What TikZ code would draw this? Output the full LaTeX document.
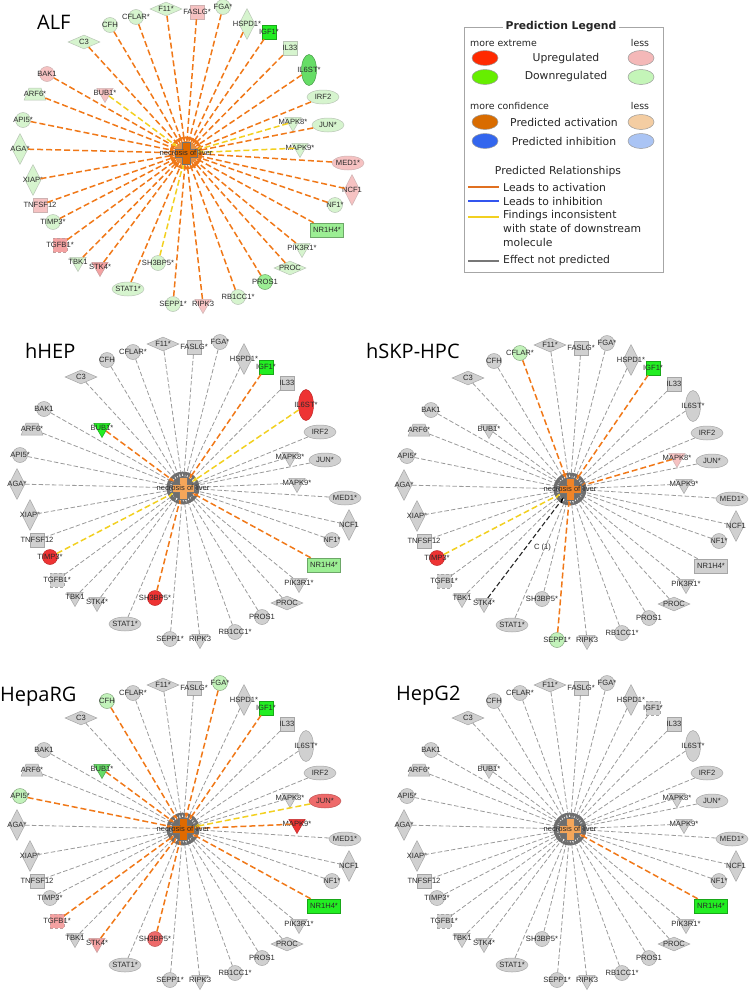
\documentclass[tikz,border=0pt]{standalone}
\usepackage{fontspec}
\setmainfont{Liberation Sans}
\newfontfamily\legendfont{DejaVu Sans}
\newfontfamily\titlefont{Open Sans}
\usetikzlibrary{shapes.geometric,arrows.meta}

% colours
\definecolor{nodegray}{HTML}{D0D0D0}
\definecolor{nodeline}{HTML}{A6A6A6}
\definecolor{labelgray}{HTML}{2A2A2A}
\definecolor{linkgray}{HTML}{9A9A9A}
\definecolor{tipgray}{HTML}{6E6E6E}
\definecolor{actline}{HTML}{F07818}
\definecolor{incline}{HTML}{F2D020}
\definecolor{upstrong}{HTML}{EE3333}
\definecolor{upmid}{HTML}{EE6A6A}
\definecolor{uprosy}{HTML}{F4A2A2}
\definecolor{uplight}{HTML}{F6C2C2}
\definecolor{dnstrong}{HTML}{22EE22}
\definecolor{dnmid}{HTML}{66DD66}
\definecolor{dnsoft}{HTML}{9CEE94}
\definecolor{dnfaint}{HTML}{C2F2BA}
\definecolor{dnlight}{HTML}{D6F4CE}
\definecolor{hubdark}{HTML}{E06A00}
\definecolor{hubmid}{HTML}{F08428}
\definecolor{hublight}{HTML}{F5A65A}
\definecolor{legred}{HTML}{FF2A00}
\definecolor{leggreen}{HTML}{66EE00}
\definecolor{legpink}{HTML}{F4B8B8}
\definecolor{leglgreen}{HTML}{C4F5B8}
\definecolor{legorange}{HTML}{D96C00}
\definecolor{leglorange}{HTML}{F4CDA2}
\definecolor{legblue}{HTML}{3366EE}
\definecolor{leglblue}{HTML}{AAC4F4}
\definecolor{legline}{HTML}{E07020}
\definecolor{legbluel}{HTML}{3355EE}
\definecolor{leggray}{HTML}{777777}

% molecules: id/label/dx/dy/shape
\newcommand\genelist{F11/F11*/-20/-144/hdia, FASLG/FASLG*/11/-141/sq,
  FGA/FGA*/37/-146/circ, HSPD1/HSPD1*/61/-129/vdia, IGF1/IGF1*/83/-121/sq,
  IL33/IL33/104/-105/sq, IL6ST/IL6ST*/123/-83/vell, IRF2/IRF2/137/-56/hell,
  MAPK8/MAPK8*/107/-31/tri, JUN/JUN*/142/-28/hell, MAPK9/MAPK9*/114/-5/tri,
  MED1/MED1*/162/10/hell, NCF1/NCF1/166/37/vdia, NF1/NF1*/149/52/circ,
  NR1H4/NR1H4*/141/77/rect, PIK3R1/PIK3R1*/116/95/tri, PROC/PROC/104/115/hdia,
  PROS1/PROS1/79/129/circ, RB1CC1/RB1CC1*/52/144/circ, RIPK3/RIPK3/17/151/tri,
  SEPP1/SEPP1*/-13/151/circ, SH3BP5/SH3BP5*/-28/110/circ,
  STAT1/STAT1*/-58/136/hell, STK4/STK4*/-86/114/tri, TBK1/TBK1/-108/109/tri,
  TGFB1/TGFB1*/-126/92/sqd, TIMP3/TIMP3*/-133/69/circ,
  TNFSF12/TNFSF12/-146/52/sq, XIAP/XIAP*/-153/27/vdia, AGA/AGA*/-166/-4/vdia,
  API5/API5*/-163/-33/circ, ARF6/ARF6*/-151/-59/trap, BAK1/BAK1/-139/-79/circ,
  BUB1/BUB1*/-81/-60/tri, C3/C3/-102/-111/hdia, CFH/CFH/-76/-128/circ,
  CFLAR/CFLAR*/-50/-136/circ}

\tikzset{
  gene/.style={draw=nodeline, fill=nodegray, inner sep=0.5pt, line width=0.5pt},
  genelabel/.style={font=\fontsize{7.6}{8}\selectfont, text=labelgray, inner sep=0pt},
  circ/.style={circle, minimum size=15pt},
  hell/.style={ellipse, minimum width=32pt, minimum height=14pt},
  vell/.style={ellipse, minimum width=15pt, minimum height=31pt},
  hdia/.style={diamond, minimum width=32pt, minimum height=14pt},
  vdia/.style={diamond, minimum width=16pt, minimum height=31pt},
  sq/.style={rectangle, minimum size=14pt},
  sqd/.style={rectangle, minimum size=14pt, densely dashed},
  rect/.style={rectangle, minimum width=33pt, minimum height=14pt},
  tri/.style={regular polygon, regular polygon sides=3, shape border rotate=180, minimum size=19pt},
  trap/.style={trapezium, trapezium left angle=68, trapezium right angle=68, minimum width=15pt, minimum height=12pt},
  hub/.style={circle, minimum size=20pt, inner sep=0pt},
  hubtext/.style={font=\fontsize{7.6}{8}\selectfont, text=labelgray, inner sep=0pt},
  crossmark/.style={draw=black!55, line width=0.4pt},
  link/.style={draw=linkgray, line width=0.8pt, dash pattern=on 4.5pt off 2.2pt,
    -{Latex[length=6pt,width=5pt,color=tipgray]}},
  act/.style={draw=actline, line width=1.5pt, dash pattern=on 6pt off 3pt,
    -{Latex[length=6pt,width=5pt,color=actline]}},
  inc/.style={draw=incline, line width=1.5pt, dash pattern=on 6pt off 3pt,
    -{Latex[length=6pt,width=5pt,color=incline]}},
  blk/.style={draw=black!85, line width=1.1pt, dash pattern=on 5pt off 2.5pt,
    -{Latex[length=6pt,width=5pt,color=black]}},
  paneltitle/.style={font=\titlefont\fontsize{20}{22}\selectfont, inner sep=0pt, anchor=base west},
  % node colours
  pinkn/.style={fill=uplight, draw=uplight!75!black!70},
  rosyn/.style={fill=uprosy, draw=uprosy!70!black!70},
  redn/.style={fill=upstrong, draw=upstrong!80!black},
  salmonn/.style={fill=upmid, draw=upmid!80!black},
  brightn/.style={fill=dnstrong, draw=dnstrong!70!black},
  greenn/.style={fill=dnmid, draw=dnmid!70!black},
  palen/.style={fill=dnsoft, draw=dnsoft!70!black},
  faintn/.style={fill=dnfaint, draw=dnfaint!70!black},
  % ALF
  alf-node/.style={fill=dnlight, draw=dnlight!65!black!60},
  alf-edge/.style={act},
  alf-blob/.style={fill=hubdark!75},
  alf-cross/.style={fill=hubdark},
  alf-FASLG/.style={pinkn}, alf-BAK1/.style={pinkn}, alf-BUB1/.style={pinkn},
  alf-MED1/.style={pinkn}, alf-NCF1/.style={pinkn}, alf-TNFSF12/.style={pinkn},
  alf-RIPK3/.style={pinkn}, alf-TGFB1/.style={rosyn}, alf-STK4/.style={rosyn},
  alf-IGF1/.style={brightn}, alf-IL6ST/.style={greenn},
  alf-NR1H4/.style={palen}, alf-PROS1/.style={palen},
  alf-BUB1-e/.style={inc}, alf-MAPK8-e/.style={inc}, alf-MAPK9-e/.style={inc},
  alf-SH3BP5-e/.style={inc},
  % hHEP
  hhep-node/.style={}, hhep-edge/.style={},
  hhep-blob/.style={fill=tipgray}, hhep-cross/.style={fill=hublight},
  hhep-BUB1/.style={brightn}, hhep-IGF1/.style={brightn}, hhep-IL6ST/.style={redn},
  hhep-TIMP3/.style={redn}, hhep-SH3BP5/.style={redn}, hhep-NR1H4/.style={palen},
  hhep-BUB1-e/.style={act}, hhep-IGF1-e/.style={act}, hhep-NR1H4-e/.style={act},
  hhep-SH3BP5-e/.style={act}, hhep-IL6ST-e/.style={inc}, hhep-TIMP3-e/.style={inc},
  % hSKP-HPC
  hskp-node/.style={}, hskp-edge/.style={},
  hskp-blob/.style={fill=tipgray}, hskp-cross/.style={fill=hubmid},
  hskp-CFLAR/.style={faintn}, hskp-SEPP1/.style={faintn}, hskp-IGF1/.style={brightn},
  hskp-MAPK8/.style={pinkn}, hskp-TIMP3/.style={redn},
  hskp-CFLAR-e/.style={act}, hskp-IGF1-e/.style={act}, hskp-MAPK8-e/.style={act},
  hskp-SEPP1-e/.style={act}, hskp-TIMP3-e/.style={inc}, hskp-STK4-e/.style={blk},
  % HepaRG
  heparg-node/.style={}, heparg-edge/.style={},
  heparg-blob/.style={fill=tipgray}, heparg-cross/.style={fill=hubdark},
  heparg-CFH/.style={faintn}, heparg-FGA/.style={faintn}, heparg-API5/.style={faintn},
  heparg-BUB1/.style={greenn}, heparg-IGF1/.style={brightn}, heparg-JUN/.style={salmonn},
  heparg-MAPK9/.style={redn}, heparg-TGFB1/.style={rosyn}, heparg-STK4/.style={rosyn},
  heparg-SH3BP5/.style={salmonn}, heparg-NR1H4/.style={brightn},
  heparg-CFH-e/.style={act}, heparg-FGA-e/.style={act}, heparg-IGF1-e/.style={act},
  heparg-BUB1-e/.style={act}, heparg-API5-e/.style={act}, heparg-MAPK9-e/.style={act},
  heparg-TGFB1-e/.style={act}, heparg-STK4-e/.style={act}, heparg-SH3BP5-e/.style={act},
  heparg-NR1H4-e/.style={act}, heparg-JUN-e/.style={inc},
  % HepG2
  hepg2-node/.style={}, hepg2-edge/.style={},
  hepg2-blob/.style={fill=tipgray}, hepg2-cross/.style={fill=hublight},
  hepg2-NR1H4/.style={brightn}, hepg2-IGF1/.style={densely dashed},
  hepg2-NR1H4-e/.style={act},
  % legend
  legdot/.style={ellipse, minimum width=26pt, minimum height=15pt, draw=black!40, line width=0.5pt},
  legtext/.style={font=\legendfont\fontsize{10.8}{14}\selectfont, text=black!85, inner sep=0pt},
  legsmall/.style={font=\legendfont\fontsize{9.4}{11}\selectfont, text=black!85, inner sep=0pt},
  legswatch/.style={line width=2.6pt},
}

\begin{document}
\begin{tikzpicture}[x=1pt, y=-1pt]
\useasboundingbox (0,0) rectangle (750,991);

\foreach \p/\cx/\cy/\ttl/\tx/\ty in {alf/186/153/ALF/37/29, hhep/183/488/hHEP/25/358,
    hskp/570/489/hSKP-HPC/366/358, heparg/183/829/HepaRG/0/701, hepg2/570/829/HepG2/396/700} {
  \node[paneltitle] (\p-title) at (\tx,\ty) {\ttl};
  \begin{scope}[shift={(\cx,\cy)}]
    \node[hub] (\p-hub) at (0,0) {};
    \fill[\p-blob] (0,0) circle (12);
    \foreach \g/\lb/\dx/\dy/\shp in \genelist {
      \node[gene, \shp, \p-node, \p-\g/.try, label={[genelabel]center:\lb}] (\p-\g) at (\dx,\dy) {};
    }
    \foreach \g/\lb/\dx/\dy/\shp in \genelist {
      \draw[link, \p-edge, \p-\g-e/.try] (\p-\g) -- (\p-hub);
    }
    \draw[crossmark, \p-cross] (-4,-11) -- (4,-11) -- (4,-4) -- (11,-4) -- (11,4) -- (4,4)
      -- (4,11) -- (-4,11) -- (-4,4) -- (-11,4) -- (-11,-4) -- (-4,-4) -- cycle;
    \node[hubtext] (\p-name) at (0,0) {necrosis of liver};
  \end{scope}
}
\path (hskp-STK4) -- node[pos=0.5, right=8pt, genelabel] (hskp-cnote) {C (1)} (hskp-hub);

% legend
\draw[draw=black!35, line width=0.6pt] (464,27) rectangle (663,272);
\node[legtext, font=\legendfont\bfseries\fontsize{10.8}{13}\selectfont, fill=white, inner xsep=3pt] (legtitle) at (561,27) {Prediction Legend};
\node[legsmall, anchor=west] (moreext) at (470,43) {more extreme};
\node[legsmall] (lessext) at (640,43) {less};
\node[legdot, fill=legred] (upd) at (485,58) {};
\node[legdot, fill=legpink] (upl) at (641,58) {};
\node[legtext] (uptext) at (566,59) {Upregulated};
\node[legdot, fill=leggreen] (dnd) at (485,77) {};
\node[legdot, fill=leglgreen] (dnl) at (641,77) {};
\node[legtext] (dntext) at (566,77) {Downregulated};
\node[legsmall, anchor=west] (moreconf) at (470,106) {more confidence};
\node[legsmall] (lessconf) at (640,106) {less};
\node[legdot, fill=legorange] (acd) at (485,122) {};
\node[legdot, fill=leglorange] (acl) at (641,122) {};
\node[legtext] (actext) at (564,122) {Predicted activation};
\node[legdot, fill=legblue] (ind) at (485,141) {};
\node[legdot, fill=leglblue] (inl) at (641,141) {};
\node[legtext] (intext) at (564,141) {Predicted inhibition};
\node[legtext] (reltitle) at (558,172) {Predicted Relationships};
\draw[legswatch, legline] (468,187) -- (499,187);
\draw[legswatch, legbluel] (468,201) -- (499,201);
\draw[legswatch, incline] (468,217) -- (499,217);
\draw[legswatch, leggray] (468,261) -- (499,261);
\node[legtext, anchor=west] (relact) at (503,187) {Leads to activation};
\node[legtext, anchor=west] (relinh) at (503,201) {Leads to inhibition};
\node[legtext, anchor=north west, align=left] (relinc) at (503,210) {Findings inconsistent\\with state of downstream\\molecule};
\node[legtext, anchor=west] (relnone) at (503,261) {Effect not predicted};
\end{tikzpicture}
\end{document}
